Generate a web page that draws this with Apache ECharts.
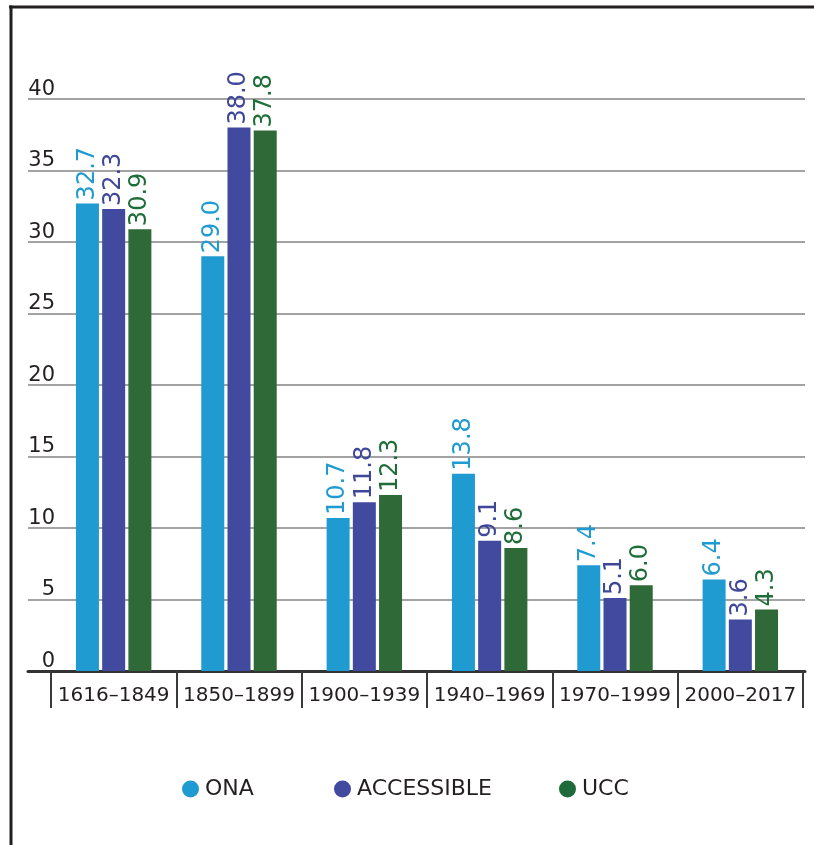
<!DOCTYPE html>
<html>
<head>
<meta charset="utf-8">
<script src="https://cdn.jsdelivr.net/npm/echarts@6/dist/echarts.min.js"></script>
<style>
  html, body { margin: 0; padding: 0; background: #fff; }
  #chart { width: 814px; height: 845px; }
</style>
</head>
<body>
<div id="chart"></div>
<script>
// Periods on the category axis
const periods = ['1616–1849', '1850–1899', '1900–1939', '1940–1969', '1970–1999', '2000–2017'];

// Series values per period
const onaValues        = [32.7, 29.0, 10.7, 13.8, 7.4, 6.4];
const accessibleValues = [32.3, 38.0, 11.8, 9.1, 5.1, 3.6];
const uccValues        = [30.9, 37.8, 12.3, 8.6, 6.0, 4.3];

// Value axis range
const yMin = 0, yMax = 40, yStep = 5;

const seriesDefs = [
  { name: 'ONA',        data: onaValues,        bar: '#1f9bd1', text: '#1f9bd1', dot: '#1f9bd1' },
  { name: 'ACCESSIBLE', data: accessibleValues, bar: '#414a9f', text: '#3f4799', dot: '#414a9f' },
  { name: 'UCC',        data: uccValues,        bar: '#2e6937', text: '#1f6d38', dot: '#1d6b3a' }
];

const FONT = 'DejaVu Sans';
const INK = '#231f20';

const chart = echarts.init(document.getElementById('chart'), null, { renderer: 'canvas' });

const legendLefts = [182, 334, 559];

chart.setOption({
  animation: false,
  backgroundColor: '#ffffff',
  grid: [
    { left: 51, right: 11, top: 99, bottom: 174 },   // bars + category axis
    { left: 28, right: 9,  top: 99, bottom: 174 }    // gridlines + baseline
  ],
  xAxis: [
    {
      type: 'category',
      gridIndex: 0,
      data: periods,
      axisLine: { show: false },
      axisTick: { show: true, interval: 0, length: 37, lineStyle: { color: '#3a3a3a', width: 2 } },
      axisLabel: { interval: 0, color: INK, fontFamily: FONT, fontSize: 20, margin: 15 }
    },
    {
      type: 'value',
      gridIndex: 1,
      min: 0, max: 1,
      axisLine: { show: true, lineStyle: { color: '#333333', width: 3 } },
      axisTick: { show: false },
      axisLabel: { show: false },
      splitLine: { show: false }
    }
  ],
  yAxis: [
    {
      type: 'value',
      gridIndex: 0,
      min: yMin, max: yMax, interval: yStep,
      axisLine: { show: false },
      axisTick: { show: false },
      splitLine: { show: false },
      axisLabel: {
        color: INK, fontFamily: FONT, fontSize: 21,
        margin: -4, verticalAlign: 'bottom', lineHeight: 19
      }
    },
    {
      type: 'value',
      gridIndex: 1,
      min: yMin, max: yMax, interval: yStep,
      axisLine: { show: false },
      axisTick: { show: false },
      axisLabel: { show: false },
      splitLine: { show: true, lineStyle: { color: '#a3a3a3', width: 2 } }
    }
  ],
  legend: seriesDefs.map((s, i) => ({
    left: legendLefts[i],
    top: 778,
    padding: 0,
    icon: 'circle',
    itemWidth: 17,
    itemHeight: 17,
    itemGap: 0,
    data: [{ name: s.name, itemStyle: { color: s.dot } }],
    textStyle: { color: INK, fontFamily: FONT, fontSize: 22, padding: [0, 0, 0, 1] }
  })),
  graphic: [
    { type: 'line', shape: { x1: 9, y1: 7, x2: 814, y2: 7 }, style: { stroke: INK, lineWidth: 3 } },
    { type: 'line', shape: { x1: 11, y1: 5.5, x2: 11, y2: 845 }, style: { stroke: INK, lineWidth: 3 } }
  ],
  series: seriesDefs.map(s => ({
    name: s.name,
    type: 'bar',
    xAxisIndex: 0,
    yAxisIndex: 0,
    data: s.data,
    barWidth: 23,
    barGap: '14%',
    itemStyle: { color: s.bar },
    label: {
      show: true,
      position: 'top',
      rotate: 90,
      align: 'left',
      verticalAlign: 'middle',
      distance: 3,
      color: s.text,
      fontFamily: FONT,
      fontSize: 24,
      formatter: p => p.value.toFixed(1)
    }
  }))
});
</script>
</body>
</html>
